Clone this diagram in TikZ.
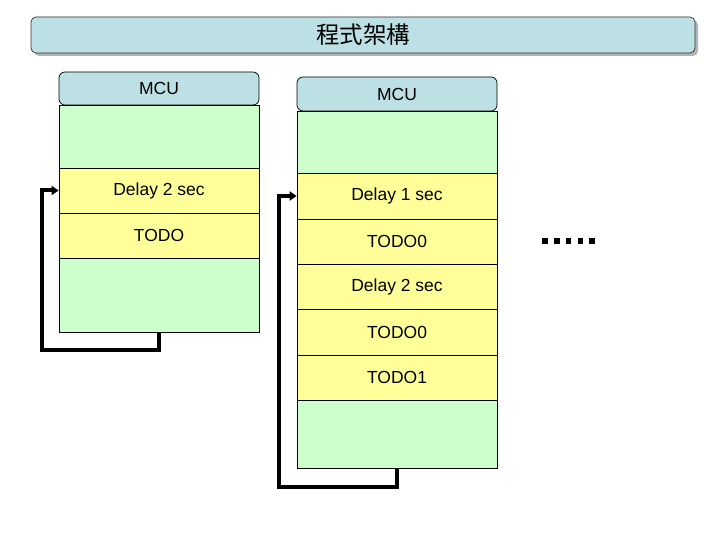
\documentclass[tikz,border=0pt]{standalone}
\usepackage{fontspec}
\setmainfont{Liberation Sans}
\newfontfamily\cjk{Noto Sans CJK TC}
\usetikzlibrary{arrows.meta}
\definecolor{hdr}{HTML}{BCE0E4}
\definecolor{grn}{HTML}{CCFFCC}
\definecolor{ylw}{HTML}{FFFF99}
\definecolor{shd}{HTML}{B4B4B4}
\tikzset{
  cell/.style={draw=black, line width=0.7pt, inner sep=0pt, minimum width=200pt, font=\fontsize{17.5}{20}\selectfont},
  gcell/.style={cell, fill=grn},
  ycell/.style={cell, fill=ylw},
  hcell/.style={cell, fill=hdr, rounded corners=6pt},
  loopline/.style={line width=4pt, -{Triangle[length=7pt,width=9pt]}},
  dotsq/.style={fill=black, draw=none, inner sep=0pt, minimum size=5.5pt}
}
\begin{document}
\begin{tikzpicture}[x=1pt,y=-1pt]
\useasboundingbox (0,0) rectangle (720,540);
% title
\fill[shd, rounded corners=5pt] (34,20) rectangle (698,56);
\node[draw=black!80, line width=0.7pt, fill=hdr, rounded corners=5pt, minimum width=664pt, minimum height=36pt, inner sep=0pt] (title) at (363,35) {\cjk\fontsize{23.5}{26}\selectfont 程式架構};
% left stack
\node[hcell, minimum height=33pt] (Lh) at (159,88.5) {MCU};
\node[gcell, minimum height=63pt] (Lg1) at (159,136.5) {};
\node[ycell, minimum height=45pt] (Ld) at (159,190.5) {Delay 2 sec};
\node[ycell, minimum height=45pt] (Lt) at (159,235.5) {TODO};
\node[gcell, minimum height=74pt] (Lg2) at (159,295) {};
\coordinate (Lc) at (42,350);
\draw[loopline] (Lg2.south) |- (Lc) |- (Ld.west);
% right stack
\node[hcell, minimum height=34pt] (Rh) at (397,94) {MCU};
\node[gcell, minimum height=62pt] (Rg1) at (397,142) {};
\node[ycell, minimum height=46pt] (Rd1) at (397,196) {Delay 1 sec};
\node[ycell, minimum height=45pt] (Rt0) at (397,241.5) {TODO0};
\node[ycell, minimum height=45pt] (Rd2) at (397,286.5) {Delay 2 sec};
\node[ycell, minimum height=46pt] (Rt0b) at (397,332) {TODO0};
\node[ycell, minimum height=45pt] (Rt1) at (397,377.5) {TODO1};
\node[gcell, minimum height=68pt] (Rg2) at (397,434) {};
\coordinate (Rc) at (279,487);
\draw[loopline] (Rg2.south) |- (Rc) |- (Rd1.west);
% dots
\foreach \i in {0,...,4} {
  \node[dotsq] (dot\i) at (545+11.8*\i,241) {};
}
\end{tikzpicture}
\end{document}
